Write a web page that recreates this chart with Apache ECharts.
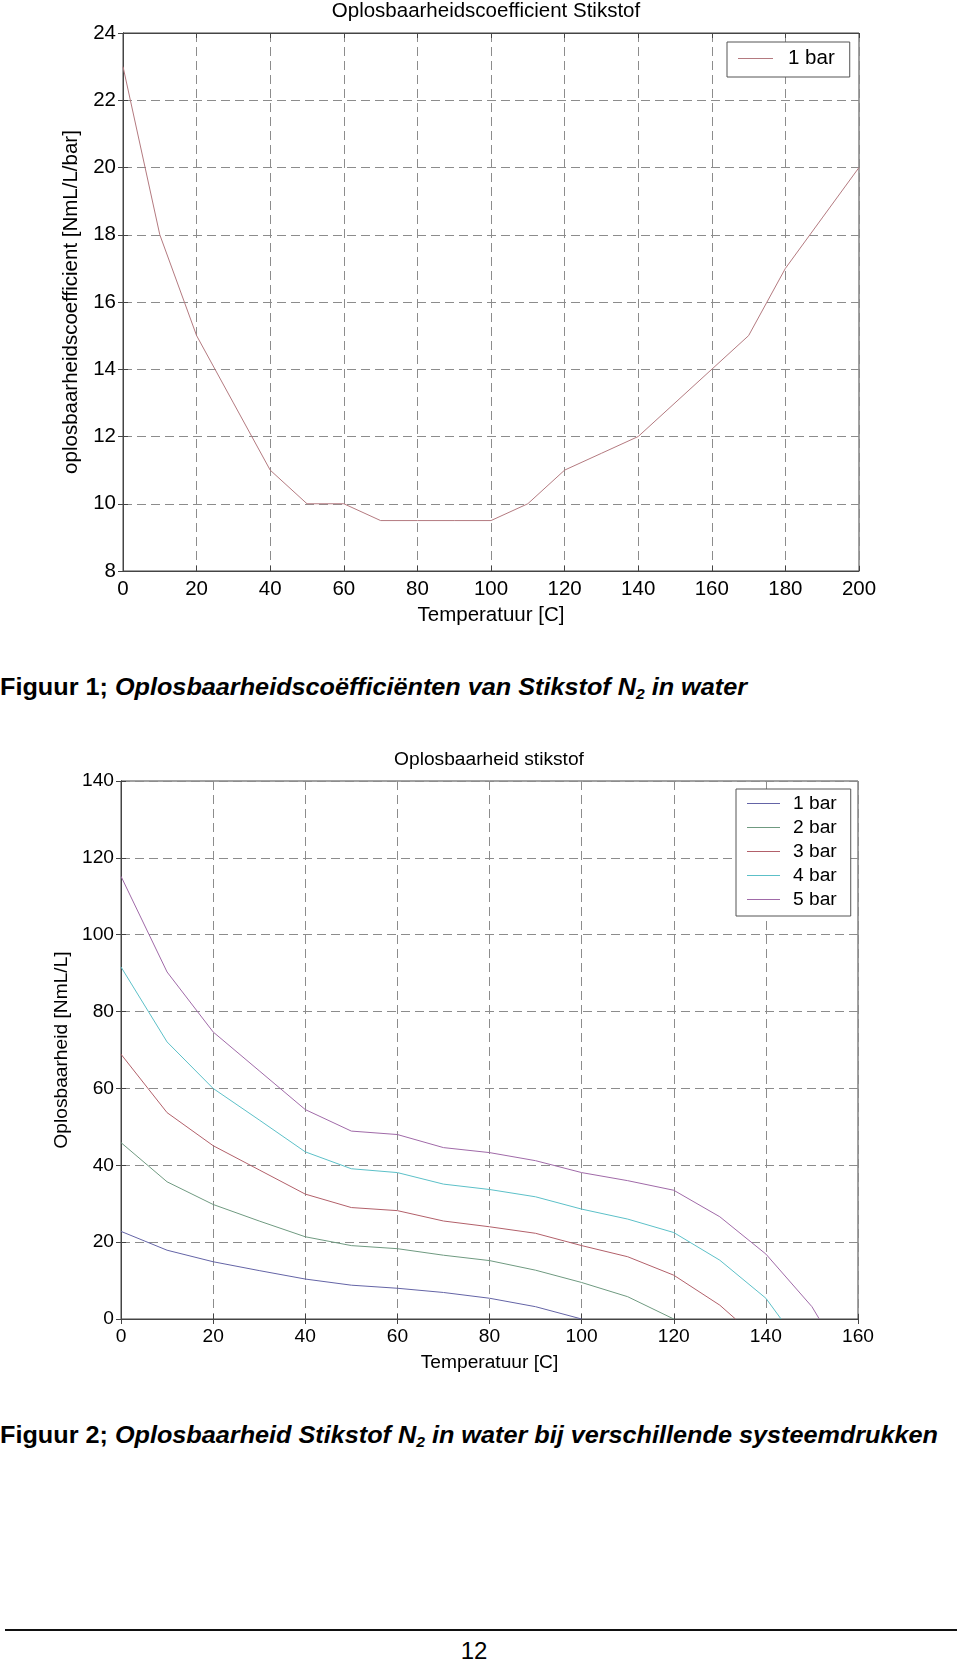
<!DOCTYPE html>
<html>
<head>
<meta charset="utf-8">
<script src="https://cdn.jsdelivr.net/npm/echarts@6/dist/echarts.min.js"></script>
<style>
  html, body { margin:0; padding:0; background:#fff; }
  body { width:960px; height:1662px; position:relative; overflow:hidden; }
  #c1 { position:absolute; left:0; top:0; width:960px; height:640px; }
  #c2 { position:absolute; left:0; top:700px; width:960px; height:680px; }
  .cap { position:absolute; left:0; white-space:nowrap; font-family:"Liberation Sans Narrow","Liberation Sans",Arial,sans-serif;
         font-weight:bold; font-size:24px; color:#000; transform-origin:0 50%; line-height:1; }
  .cap i { font-style:italic; }
  .cap sub { font-size:62%; vertical-align:-0.25em; line-height:0; }
  #rule { position:absolute; left:5px; top:1629px; width:952px; height:2px; background:#111; }
  #pnum { position:absolute; top:1639px; left:0; width:948px; text-align:center; font-family:"Liberation Sans Narrow","Liberation Sans",Arial,sans-serif;
          font-size:24px; color:#000; line-height:1; }
</style>
</head>
<body>
<div id="c1"></div>
<div class="cap" id="cap1" style="top:675px;">Figuur 1; <i>Oplosbaarheidscoëfficiënten van Stikstof N<sub>2</sub> in water</i></div>
<div id="c2"></div>
<div class="cap" id="cap2" style="top:1423px;">Figuur 2; <i>Oplosbaarheid Stikstof N<sub>2</sub> in water bij verschillende systeemdrukken</i></div>
<div id="rule"></div>
<div id="pnum">12</div>
<script>
// ---------- Data: figure 1 ----------
const temps1 = [0,10,20,30,40,50,60,70,80,90,100,110,120,130,140,150,160,170,180,190,200];
const coef1bar = [23,18,15,13,11,10,10,9.5,9.5,9.5,9.5,10,11,11.5,12,13,14,15,17,18.5,20];
const xTicks1 = [0,200,20];   // min, max, step
const yTicks1 = [8,24,2];

// ---------- Data: figure 2 ----------
const seriesNames2 = ['1 bar','2 bar','3 bar','4 bar','5 bar'];
const t1 = [0,10,20,30,40,50,60,70,80,90,100];
const v1 = [22.8,17.9,14.9,12.6,10.4,8.8,8.0,6.9,5.4,3.2,0];
const t2 = [0,10,20,30,40,50,60,70,80,90,100,110,120];
const v2 = [45.9,35.7,29.8,25.5,21.4,19.1,18.3,16.6,15.2,12.7,9.5,5.8,0];
const t3 = [0,10,20,30,40,50,60,70,80,90,100,110,120,130,133.4];
const v3 = [68.9,53.7,45.1,38.8,32.5,29.0,28.2,25.5,24.0,22.3,19.1,16.2,11.4,3.6,0];
const t4 = [0,10,20,30,40,50,60,70,80,90,100,110,120,130,140,143.3];
const v4 = [91.6,72.1,60.0,51.8,43.5,39.1,38.1,35.1,33.7,31.8,28.6,26.0,22.5,15.3,5.4,0];
const t5 = [0,10,20,30,40,50,60,70,80,90,100,110,120,130,140,150,151.6];
const v5 = [115.2,90.3,74.7,64.6,54.5,48.9,48.0,44.6,43.3,41.2,38.1,36.0,33.5,26.6,16.9,3.2,0];
const xTicks2 = [0,160,20];
const yTicks2 = [0,140,20];

// ---------- Styles ----------
const FONT = '"Liberation Sans", Arial, Helvetica, sans-serif';
const FS1 = 20.5;
const FS2 = 19.2;
const AXC = '#444';
const GRIDC = '#8c8c8c';
const color1 = '#b47a80';
const colors2 = ['#6464a6','#6f9a80','#b2606a','#5cc0c8','#a06aa8'];

function pairs(t, v) { return t.map((x, i) => [x, v[i]]); }

function axes(xT, yT, xName, yName, yGap, fs) {
  const common = {
    axisLine: { show: true, lineStyle: { color: AXC, width: 1 } },
    axisTick: { show: true, inside: true, length: 5, lineStyle: { color: AXC } },
  };
  const dashed = { show: true, lineStyle: { color: GRIDC, type: [9, 5], width: 1 } };
  const lab = { color: '#000', fontSize: fs, fontFamily: FONT };
  return {
    xAxis: [
      Object.assign({ type: 'value', min: xT[0], max: xT[1], interval: xT[2], position: 'bottom',
        axisLabel: Object.assign({ margin: 8 }, lab), splitLine: dashed,
        name: xName, nameLocation: 'middle', nameGap: 34, nameTextStyle: lab }, common),
      Object.assign({ type: 'value', min: xT[0], max: xT[1], interval: xT[2], position: 'top',
        axisLabel: { show: false }, splitLine: { show: false } }, common)
    ],
    yAxis: [
      Object.assign({ type: 'value', min: yT[0], max: yT[1], interval: yT[2], position: 'left',
        axisLabel: Object.assign({ margin: 7 }, lab), splitLine: dashed,
        name: yName, nameLocation: 'middle', nameGap: yGap, nameRotate: 90, nameTextStyle: lab }, common),
      Object.assign({ type: 'value', min: yT[0], max: yT[1], interval: yT[2], position: 'right',
        axisLabel: { show: false }, splitLine: { show: false } }, common)
    ]
  };
}

// ---------- Chart 1 ----------
const ch1 = echarts.init(document.getElementById('c1'), null, { renderer: 'canvas' });
const ax1 = axes(xTicks1, yTicks1, 'Temperatuur [C]', 'oplosbaarheidscoefficient [NmL/L/bar]', 36, FS1);
ch1.setOption({
  animation: false,
  backgroundColor: '#fff',
  title: { text: 'Oplosbaarheidscoefficient Stikstof', left: 481, textAlign: 'center', top: -4,
    textStyle: { color: '#000', fontSize: FS1, fontWeight: 'normal', fontFamily: FONT } },
  grid: { left: 123, top: 33, width: 736, height: 538, show: true, borderColor: AXC, borderWidth: 1 },
  xAxis: ax1.xAxis, yAxis: ax1.yAxis,
  legend: { show: true, orient: 'vertical', left: 727, top: 42, icon: 'rect', itemWidth: 35, itemHeight: 1,
    itemGap: 4, borderColor: '#555', borderWidth: 1, padding: [6, 15, 8, 11], backgroundColor: '#fff',
    textStyle: { color: '#000', fontSize: FS1, fontFamily: FONT, padding: [0, 0, 0, 10] } },
  series: [{ name: '1 bar', type: 'line', data: pairs(temps1, coef1bar), symbol: 'none', showSymbol: false,
    lineStyle: { color: color1, width: 1 }, itemStyle: { color: color1 } }]
});

// ---------- Chart 2 ----------
const ch2 = echarts.init(document.getElementById('c2'), null, { renderer: 'canvas' });
const ax2 = axes(xTicks2, yTicks2, 'Temperatuur [C]', 'Oplosbaarheid [NmL/L]', 43, FS2);
const allT = [t1, t2, t3, t4, t5], allV = [v1, v2, v3, v4, v5];
ch2.setOption({
  animation: false,
  backgroundColor: '#fff',
  title: { text: 'Oplosbaarheid stikstof', left: 484, textAlign: 'center', top: 45,
    textStyle: { color: '#000', fontSize: FS2, fontWeight: 'normal', fontFamily: FONT } },
  grid: { left: 121, top: 81, width: 737, height: 538, show: true, borderColor: AXC, borderWidth: 1 },
  xAxis: ax2.xAxis, yAxis: ax2.yAxis,
  legend: { show: true, orient: 'vertical', left: 736, top: 89, icon: 'rect', itemWidth: 33, itemHeight: 1,
    itemGap: 5, borderColor: '#555', borderWidth: 1, padding: [5, 14, 7, 11], backgroundColor: '#fff',
    textStyle: { color: '#000', fontSize: FS2, fontFamily: FONT, padding: [0, 0, 0, 8] }, data: seriesNames2 },
  series: seriesNames2.map((n, i) => ({ name: n, type: 'line', data: pairs(allT[i], allV[i]), symbol: 'none',
    showSymbol: false, lineStyle: { color: colors2[i], width: 1 }, itemStyle: { color: colors2[i] } }))
});

// ---------- caption width fit ----------
function fit(id, w) {
  const el = document.getElementById(id);
  const r = el.getBoundingClientRect();
  el.style.transform = 'scaleX(' + (w / r.width) + ')';
}
fit('cap1', 747);
fit('cap2', 938);
</script>
</body>
</html>
